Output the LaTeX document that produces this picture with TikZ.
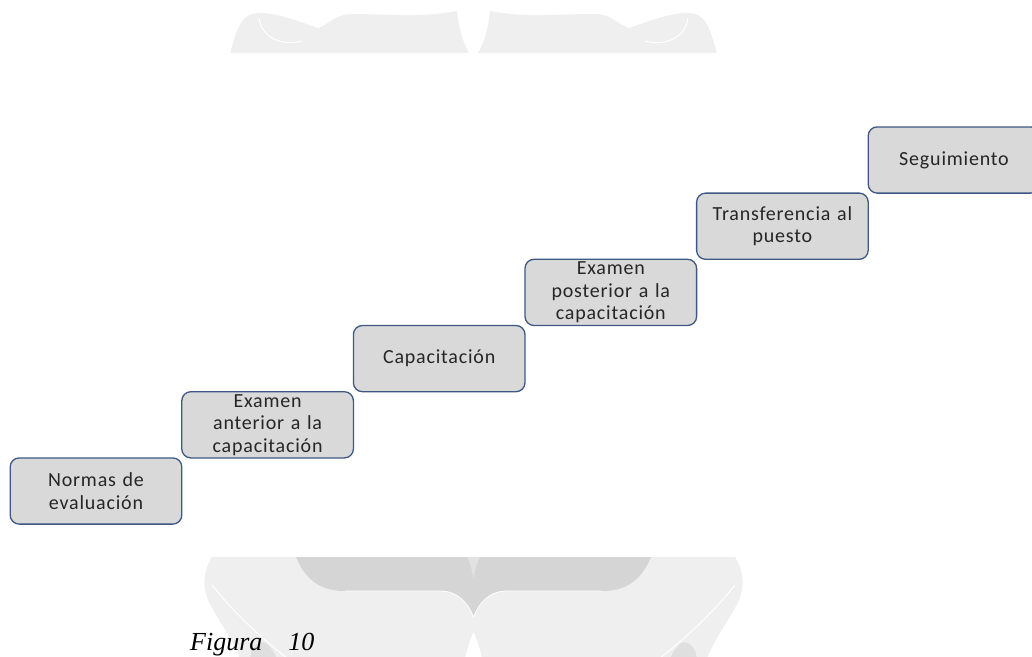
\documentclass[tikz,border=0pt]{standalone}
\usepackage{fontspec}
\setmainfont{Carlito}
\newfontfamily\pasofont[LetterSpace=4]{Carlito}
\newfontfamily\figfont{Liberation Serif}
\usetikzlibrary{positioning}

\definecolor{relleno}{HTML}{D9D9D9}
\definecolor{borde}{HTML}{3E5883}
\definecolor{marca}{HTML}{EFEFEF}
\definecolor{marcaosc}{HTML}{D5D5D5}

\begin{document}
\begin{tikzpicture}[x=1pt, y=-1pt, node distance=0pt and 0pt,
  paso/.style={draw=borde, fill=relleno, line width=1.3pt, rounded corners=9pt,
    minimum width=171.6pt, minimum height=66.2pt, text width=160pt, align=center,
    inner sep=0pt, outer sep=0pt, text=black!85,
    font=\pasofont\fontsize{20}{22.5}\selectfont}]
\useasboundingbox (0,0) rectangle (1032,656);

%marca de agua arriba
\begin{scope}
  \clip (0,0) rectangle (1032,52);
  \foreach \s in {1,-1} {
    \begin{scope}[xshift={473.5pt*(1-\s)}, xscale=\s]
      \fill[marca] (228,60) .. controls (236,35) and (238,14) .. (258,13)
        .. controls (275,12) and (300,22) .. (318,28)
        .. controls (330,24) and (335,14) .. (352,14)
        .. controls (390,14) and (420,18) .. (457,11)
        .. controls (459,30) and (463,45) .. (473.5,60) -- cycle;
      \draw[white, line width=1pt] (259,18) .. controls (262,40) and (285,46) .. (302,41);
    \end{scope}
  }
\end{scope}

%marca de agua abajo
\begin{scope}
  \clip (0,557) rectangle (1032,656);
  \fill[marca] (226,540) .. controls (205,560) and (200,580) .. (208,600)
    .. controls (220,625) and (235,640) .. (244,670) -- (703,670)
    .. controls (712,640) and (727,625) .. (739,600)
    .. controls (747,580) and (742,560) .. (721,540) -- cycle;
  \fill[marcaosc] (290,540) .. controls (300,575) and (315,591) .. (345,591) -- (440,591)
    .. controls (458,591) and (468,603) .. (473.5,617)
    .. controls (479,603) and (489,591) .. (507,591) -- (602,591)
    .. controls (632,591) and (647,575) .. (657,540) -- cycle;
  \draw[white, line width=0.8pt] (345,591) -- (440,591)
    .. controls (458,591) and (468,603) .. (473.5,617)
    .. controls (479,603) and (489,591) .. (507,591) -- (602,591);
  \fill[marca!50!marcaosc] (462,550) .. controls (468,556) and (471,565) .. (473.5,578)
    .. controls (476,565) and (479,556) .. (485,550) -- cycle;
  \fill[white] (463,670) .. controls (466,650) and (470,640) .. (473.5,632)
    .. controls (477,640) and (481,650) .. (484,670) -- cycle;
  \foreach \s in {1,-1} {
    \begin{scope}[xshift={473.5pt*(1-\s)}, xscale=\s]
      \draw[white, line width=1pt] (212,585) .. controls (240,620) and (270,645) .. (292,662);
      \fill[marcaosc!60!marca] (250,662) .. controls (250,648) and (258,640) .. (266,643)
        .. controls (272,648) and (276,655) .. (278,662) -- cycle;
    \end{scope}
  }
\end{scope}

%escalones
\node[paso] (normas) at (96,491) {Normas de\\evaluación};
\node[paso, above right=of normas] (exant) {Examen\\anterior a la\\capacitación};
\node[paso, above right=of exant] (capac) {Capacitación};
\node[paso, above right=of capac] (expos) {Examen\\posterior a la\\capacitación};
\node[paso, above right=of expos] (transf) {Transferencia al\\puesto};
\node[paso, above right=of transf] (segui) {Seguimiento};

%pie de figura
\node[anchor=base west, inner sep=0pt, font=\figfont\itshape\fontsize{26}{30}\selectfont]
  (fig) at (190,650) {Figura\quad 10};

\end{tikzpicture}
\end{document}
